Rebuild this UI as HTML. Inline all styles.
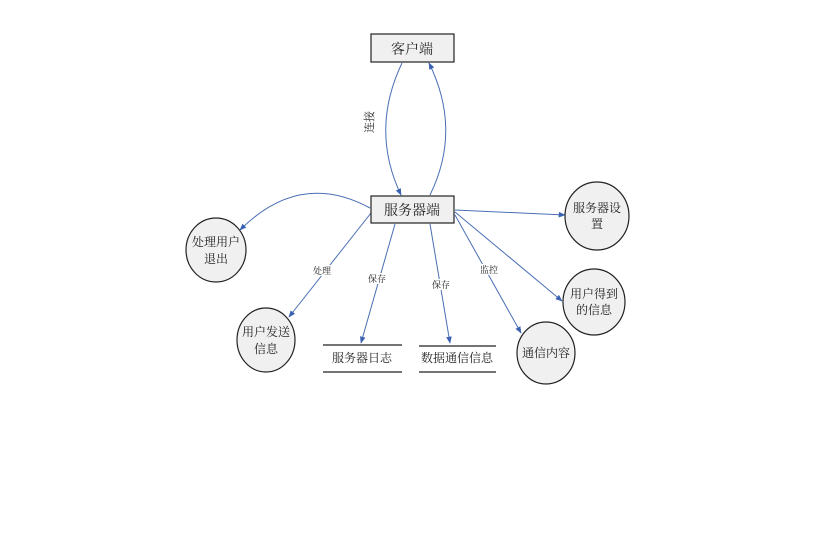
<!DOCTYPE html>
<html><head><meta charset="utf-8"><style>
body{margin:0;background:#fff;}
svg text{font-family:"Liberation Serif","Noto Serif CJK SC","Noto Sans CJK SC",serif;fill:#222;}
</style></head><body>
<svg width="819" height="549" viewBox="0 0 819 549" xmlns="http://www.w3.org/2000/svg">
<defs>
<marker id="a" viewBox="0 0 10 10" refX="9" refY="5" markerWidth="7" markerHeight="7" orient="auto-start-reverse" markerUnits="userSpaceOnUse">
<path d="M0,1 L10,5 L0,9 Z" fill="#3a62b0"/></marker>
</defs>
<g fill="none" stroke="#4a6fb5" stroke-width="1">
<path d="M402,63 Q370,130 401,195" marker-end="url(#a)"/>
<path d="M430,195 Q462,130 429,63" marker-end="url(#a)"/>
<path d="M370,208 Q300,170 240,230" marker-end="url(#a)"/>
<path d="M371,213 L289,317" marker-end="url(#a)"/>
<path d="M395,224 L361,343" marker-end="url(#a)"/>
<path d="M430,224 L450,343" marker-end="url(#a)"/>
<path d="M455,210 L565,215" marker-end="url(#a)"/>
<path d="M455,212 L562,301" marker-end="url(#a)"/>
<path d="M455,215 L521,333" marker-end="url(#a)"/>
</g>
<g fill="#f0f0f0" stroke="#222" stroke-width="1.2">
<rect x="371" y="34" width="83" height="28"/>
<rect x="371" y="196" width="83" height="27"/>
<ellipse cx="216" cy="250" rx="30" ry="32"/>
<ellipse cx="266" cy="340" rx="29" ry="32"/>
<ellipse cx="597" cy="216" rx="32" ry="34"/>
<ellipse cx="594" cy="302" rx="31" ry="33"/>
<ellipse cx="546" cy="353" rx="29" ry="31"/>
</g>
<g stroke="#222" stroke-width="1.2">
<line x1="323" y1="345" x2="402" y2="345"/><line x1="323" y1="372" x2="402" y2="372"/>
<line x1="419" y1="346" x2="496" y2="346"/><line x1="419" y1="372" x2="496" y2="372"/>
</g>
<g font-size="14" text-anchor="middle">
<text x="412" y="54">客户端</text>
<text x="412" y="215">服务器端</text>
</g>
<g font-size="12" text-anchor="middle">
<text x="216" y="246">处理用户</text><text x="216" y="263">退出</text>
<text x="266" y="336">用户发送</text><text x="266" y="353">信息</text>
<text x="597" y="212">服务器设</text><text x="597" y="228">置</text>
<text x="594" y="298">用户得到</text><text x="594" y="314">的信息</text>
<text x="546" y="357">通信内容</text>
<text x="362" y="362">服务器日志</text>
<text x="457" y="362">数据通信信息</text>
</g>
<g font-size="9" text-anchor="middle">
<rect x="312" y="265" width="20" height="11" fill="#fff"/><text x="322" y="274">处理</text>
<rect x="367" y="273" width="20" height="11" fill="#fff"/><text x="377" y="282">保存</text>
<rect x="431" y="279" width="20" height="11" fill="#fff"/><text x="441" y="288">保存</text>
<rect x="479" y="264" width="20" height="11" fill="#fff"/><text x="489" y="273">监控</text>
<text x="0" y="0" font-size="11" transform="translate(373,122) rotate(-90)">连接</text>
</g>
</svg>
</body></html>
